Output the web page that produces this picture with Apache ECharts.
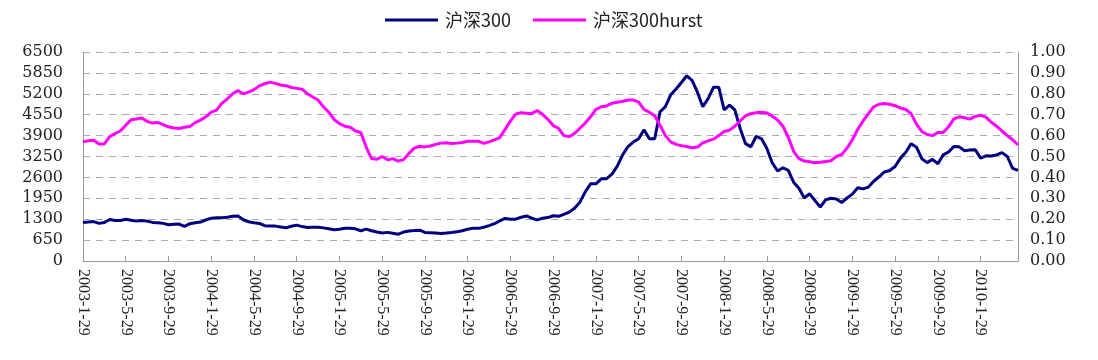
<!DOCTYPE html>
<html>
<head>
<meta charset="utf-8">
<script src="https://cdn.jsdelivr.net/npm/echarts@6/dist/echarts.min.js"></script>
<style>html,body{margin:0;padding:0;background:#fff;}#c{width:1098px;height:360px;}</style>
</head>
<body>
<div id="c"></div>
<script>
// Categories: half-month dates from 2003-1-29 to 2010-5-14
const categories = [];
(function(){
  for (let y = 2003; y <= 2010; y++) {
    for (let m = 1; m <= 12; m++) {
      if (!(y === 2003 && m === 1)) categories.push(y + '-' + m + '-14');
      if (y === 2010 && m === 5) return;
      categories.push(y + '-' + m + '-' + (m === 2 ? 28 : 29));
    }
  }
})();

const csi300 = [
  1200,1215,1225,1170,1200,1290,1260,1260,1300,1270,1240,1262,1240,1200,1190,1170,1126,1140,1150,1080,1160,1190,1210,1280,1330,1345,1345,1360,1390,1400,1283,1220,1190,1168,1100,1090,1085,1060,1033,1080,1116,1070,1043,1050,1053,
  1030,1000,975,985,1020,1022,1000,940,990,940,900,870,890,860,834,900,935,945,960,887,880,870,857,870,887,910,939,990,1022,1015,1050,1100,1160,1250,1325,1300,1300,1360,1400,1330,1280,1330,1350,1408,
  1390,1450,1520,1640,1830,2150,2400,2400,2555,2560,2700,2950,3300,3560,3700,3800,4080,3800,3800,4641,4800,5170,5350,5550,5760,5620,5250,4800,5050,5400,5400,4700,4850,4700,4120,3650,3550,3880,3800,3500,3050,2800,2900,2820,
  2450,2260,1960,2090,1877,1680,1900,1950,1930,1820,1960,2080,2280,2242,2300,2480,2620,2770,2816,2940,3200,3380,3650,3540,3181,3060,3160,3024,3300,3390,3560,3550,3430,3450,3460,3200,3270,3264,3300,3370,3250,2880,2816
];

const hurst = [
  0.570,0.575,0.578,0.560,0.560,0.595,0.610,0.622,0.650,0.676,0.679,0.684,0.668,0.660,0.663,0.652,0.642,0.636,0.634,0.640,0.644,0.662,0.674,0.690,0.712,0.722,0.755,0.775,0.800,0.815,0.800,0.808,0.820,0.838,0.848,0.856,0.850,0.842,0.839,0.830,0.826,0.822,0.800,0.785,0.770,
  0.738,0.712,0.677,0.657,0.645,0.640,0.622,0.615,0.545,0.490,0.487,0.500,0.484,0.490,0.478,0.485,0.515,0.540,0.549,0.546,0.550,0.558,0.564,0.566,0.562,0.564,0.567,0.573,0.573,0.573,0.563,0.570,0.580,0.590,0.630,0.670,0.703,0.709,0.707,0.705,0.720,0.702,0.678,0.648,
  0.635,0.600,0.595,0.610,0.635,0.660,0.690,0.725,0.738,0.742,0.755,0.760,0.764,0.770,0.770,0.760,0.725,0.712,0.695,0.650,0.600,0.570,0.558,0.552,0.548,0.542,0.545,0.565,0.575,0.583,0.600,0.620,0.626,0.645,0.670,0.695,0.705,0.709,0.712,0.708,0.693,0.675,0.645,0.592,
  0.525,0.490,0.478,0.475,0.470,0.472,0.476,0.480,0.500,0.510,0.540,0.580,0.630,0.670,0.705,0.738,0.750,0.754,0.750,0.743,0.732,0.725,0.705,0.655,0.620,0.605,0.600,0.615,0.615,0.642,0.680,0.690,0.685,0.679,0.692,0.697,0.688,0.664,0.645,0.622,0.600,0.580,0.555
];

const seriesNames = ['沪深300', '沪深300hurst'];

const chart = echarts.init(document.getElementById('c'), null, {renderer: 'canvas'});
chart.setOption({
  animation: false,
  backgroundColor: '#fff',
  legend: {
    top: 6,
    left: 380,
    itemGap: 22,
    itemWidth: 53,
    itemHeight: 3,
    icon: 'rect',
    textStyle: {fontFamily: 'Noto Sans CJK SC', fontSize: 18, color: '#222', padding: [0, 0, 0, 2]},
    data: seriesNames
  },
  grid: {left: 83, right: 80, top: 52, bottom: 99},
  xAxis: {
    type: 'category',
    data: categories,
    boundaryGap: false,
    axisLine: {lineStyle: {color: '#999', width: 1}},
    axisTick: {show: true, inside: true, length: 5, interval: 7, lineStyle: {color: '#999'}},
    axisLabel: {interval: 7, rotate: -90, margin: 8, fontFamily: 'Liberation Serif', fontSize: 16, color: '#222'},
    splitLine: {show: false}
  },
  yAxis: [
    {
      type: 'value', min: 0, max: 6500, interval: 650,
      axisLine: {show: true, lineStyle: {color: '#999'}},
      axisTick: {show: false},
      axisLabel: {margin: 20, fontFamily: 'DejaVu Serif', fontSize: 16, color: '#222', formatter: v => String(v)},
      splitLine: {show: true, lineStyle: {color: '#aaa', width: 1, type: [7, 6]}}
    },
    {
      type: 'value', min: 0, max: 1, interval: 0.1,
      axisLine: {show: true, lineStyle: {color: '#999'}},
      axisTick: {show: false},
      axisLabel: {margin: 12, fontFamily: 'DejaVu Serif', fontSize: 16, color: '#222', formatter: v => v.toFixed(2)},
      splitLine: {show: false}
    }
  ],
  series: [
    {name: seriesNames[0], type: 'line', data: csi300, yAxisIndex: 0, symbol: 'none', color: '#000080', lineStyle: {width: 3, color: '#000080'}},
    {name: seriesNames[1], type: 'line', data: hurst, yAxisIndex: 1, symbol: 'none', color: '#ff00ff', lineStyle: {width: 3, color: '#ff00ff'}}
  ]
});
</script>
</body>
</html>
